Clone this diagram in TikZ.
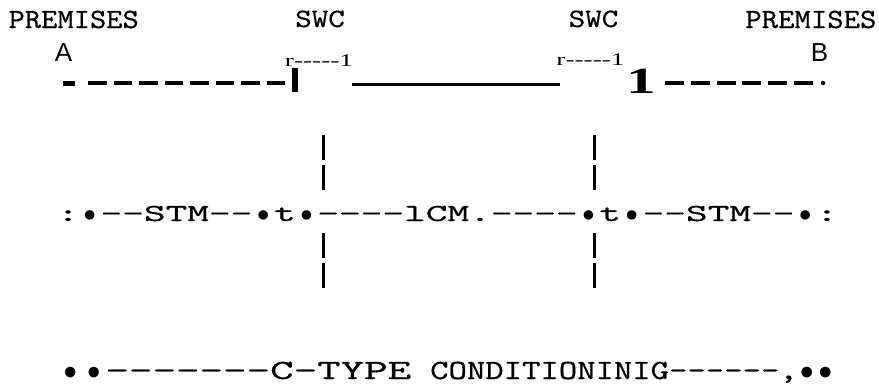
\documentclass[tikz,border=0pt]{standalone}
\usepackage{fontspec}
\usepackage{graphicx}
\usetikzlibrary{positioning}
\newfontfamily\arialfont{Liberation Sans}
\newfontfamily\timesfont{Liberation Serif}
\newfontfamily\typefont[FakeBold=0.5]{lmmono10-regular.otf}
% typewriter text stretched to the scan
\newcommand{\stretched}[3]{\scalebox{#1}[#2]{\fontsize{10bp}{12bp}\selectfont\typefont #3}}
\newcommand{\bul}[1][0.6]{\makebox[0.525em]{\scalebox{#1}[1]{$\bullet$}}}
\newcommand{\dashes}[1]{\foreach \i in {1,...,#1}{\mbox{-}}}

\begin{document}
\begin{tikzpicture}[x=1bp,y=-1bp,
    lbl/.style={inner sep=0pt},
    sidelbl/.style={lbl,anchor=base,font=\arialfont\fontsize{26bp}{28bp}\selectfont},
    caplbl/.style={lbl,anchor=base,font=\timesfont\fontsize{17.7bp}{20bp}\selectfont},
    dashwire/.style={line width=3.5bp,dash pattern=on 18.5bp off 7bp},
    post/.style={line width=3bp,dash pattern=on 25bp off 5bp}]
    \useasboundingbox (0,0) rectangle (879,386);
    % Labels
    \node[lbl,anchor=base west] (premA) at (8.4,28) {\stretched{3.1}{2.78}{PREMISES}};
    \node[lbl,anchor=base east] (premB) at (876.6,28) {\stretched{3.12}{2.78}{PREMISES}};
    \node[lbl,anchor=base] (swcL) at (320,27) {\stretched{3.15}{2.65}{SWC}};
    \node[lbl,anchor=base] (swcR) at (593.5,27) {\stretched{3.15}{2.65}{SWC}};
    \node[sidelbl] (sideA) at (63.5,61) {A};
    \node[sidelbl] (sideB) at (819.5,61) {B};
    \node[caplbl] (capL) at (319,66) {\scalebox{1.54}[1]{r\dashes{5}1}};
    \node[caplbl] (capR) at (590.5,65) {\scalebox{1.54}[1]{r\dashes{5}1}};
    % Line
    \coordinate (tipA) at (63,83);
    \coordinate (tipA2) at (75,83);
    \coordinate (runA) at (88,83);
    \coordinate (runA2) at (285,83);
    \draw[line width=5bp] (tipA) -- (tipA2);
    \draw[dashwire] (runA) -- (runA2);
    \node[fill,inner sep=0pt,minimum width=6bp,minimum height=24bp] (swL) at (295,80) {};
    \coordinate (midL) at (352,84);
    \coordinate (midR) at (560,84);
    \draw[line width=3bp] (midL) -- (midR);
    \node[lbl,anchor=base,font=\timesfont\bfseries\fontsize{37bp}{40bp}\selectfont] (swR) at (641,93) {\scalebox{1.6}[1]{1}};
    \coordinate (runB) at (665,83);
    \coordinate (runB2) at (813,83);
    \draw[dashwire,dash pattern=on 19bp off 6.8bp] (runB) -- (runB2);
    \node[circle,fill,inner sep=0pt,minimum size=4.5bp] (tipB) at (823,83) {};
    % Posts
    \foreach \px in {323,594} {
        \draw[post] (\px,135) -- (\px,192);
        \draw[post] (\px,233) -- (\px,290);
    }
    % Rows
    \node[lbl,anchor=base west] (stmRow) at (57,221)
        {\stretched{4.13}{2.45}{:\bul\dashes{2}STM\dashes{2}\bul t\bul\dashes{4}lCM.\dashes{4}\bul t\bul\dashes{2}STM\dashes{2}\bul:}};
    \node[lbl,anchor=base west] (ctypeL) at (58.25,379) {\stretched{4.48}{2.78}{\bul\bul\dashes{7}C\mbox{-}TYPE}};
    \node[lbl,anchor=base west] (ctypeR) at (430,379) {\stretched{3.5}{2.78}{CONDITIONINIG\dashes{6},\bul[0.8]\bul[0.8]}};
\end{tikzpicture}
\end{document}
